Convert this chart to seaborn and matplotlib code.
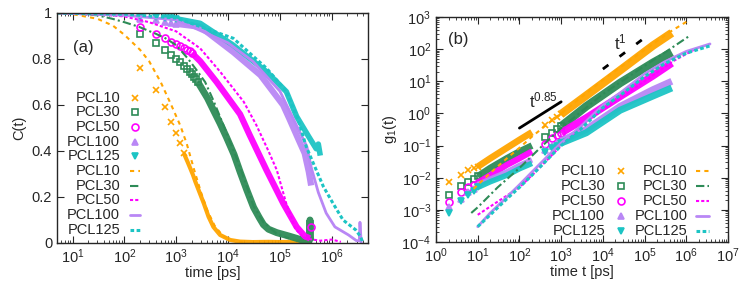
import matplotlib
matplotlib.use("Agg")
import matplotlib.pyplot as plt
import matplotlib.ticker as mticker
import seaborn as sns

# ---------------- panel (a): C(t) ----------------
# symbols (sparse, individually visible points)
ca_pcl10_sym_t = [200, 400, 600, 800, 1000, 1200, 1400]
ca_pcl10_sym = [0.76, 0.665, 0.59, 0.527, 0.477, 0.433, 0.39]
ca_pcl30_sym_t = [200, 400, 600, 800, 1000, 1200, 1400, 1600, 1800, 2000, 2200, 2400, 2600]
ca_pcl30_sym = [0.91, 0.868, 0.84, 0.817, 0.80, 0.785, 0.77, 0.757, 0.745, 0.733, 0.722, 0.712, 0.702]
ca_pcl50_sym_t = [200, 400, 600, 800, 1000, 1200, 1400, 1600, 1800, 2000, 4.0e5]
ca_pcl50_sym = [0.94, 0.91, 0.89, 0.876, 0.864, 0.855, 0.847, 0.84, 0.833, 0.826, 0.07]
ca_pcl100_sym_t = [200, 400, 600, 800, 1000]
ca_pcl100_sym = [0.975, 0.968, 0.962, 0.957, 0.953]
ca_pcl125_sym_t = [200, 400, 600, 800, 1000]
ca_pcl125_sym = [0.985, 0.981, 0.979, 0.977, 0.975]

# symbols (dense parts, overlapping into bands)
ca_pcl10_band_t = [1400, 1650, 1860, 2100, 2330, 2700, 3400, 4200, 5200, 7000, 1.1e4, 1.7e4,
                   3e4, 6e4, 1e5, 2e5, 4e5]
ca_pcl10_band = [0.39, 0.353, 0.325, 0.296, 0.267, 0.23, 0.172, 0.114, 0.07, 0.035, 0.013, 0.006,
                 0.004, 0.005, 0.004, 0.006, 0.005]
ca_pcl30_band_t = [2600, 4000, 5200, 7000, 9300, 1.3e4, 1.7e4, 2.3e4, 3.1e4, 4e4, 4.8e4, 6e4,
                   8.7e4, 1.5e5, 2.5e5, 3.5e5, 3.7e5, 3.8e5, 3.9e5]
ca_pcl30_band = [0.70, 0.63, 0.578, 0.52, 0.46, 0.385, 0.31, 0.23, 0.155, 0.11, 0.08, 0.06,
                 0.045, 0.03, 0.015, 0.01, 0.01, 0.10, 0.01]
ca_pcl50_band_t = [2000, 2900, 6000, 1.7e4, 2.6e4, 5.5e4, 1.16e5, 2.1e5, 3e5, 3.8e5]
ca_pcl50_band = [0.826, 0.79, 0.70, 0.56, 0.47, 0.317, 0.172, 0.07, 0.03, 0.02]
ca_pcl100_band_t = [1000, 2900, 1.26e4, 4.2e4, 1.15e5, 1.5e5, 2.3e5, 3e5, 3.6e5, 4e5]
ca_pcl100_band = [0.953, 0.94, 0.83, 0.73, 0.60, 0.543, 0.448, 0.39, 0.31, 0.25]
ca_pcl125_band_t = [1000, 2900, 1.26e4, 5.5e4, 1.33e5, 2.1e5, 3.6e5, 5e5, 5.5e5, 6e5]
ca_pcl125_band = [0.975, 0.955, 0.86, 0.745, 0.658, 0.55, 0.462, 0.41, 0.43, 0.38]

# lines
ca_pcl10_line_t = [5, 10, 30, 60, 100, 200, 300, 500, 800, 1200, 1600, 2200, 3000, 4000, 5500,
                   8000, 1.2e4, 2e4]
ca_pcl10_line = [0.998, 0.995, 0.975, 0.945, 0.905, 0.84, 0.79, 0.70, 0.60, 0.51, 0.43, 0.32,
                 0.22, 0.14, 0.075, 0.03, 0.01, 0.003]
ca_pcl30_line_t = [5, 10, 30, 58, 100, 190, 400, 620, 1000, 1700, 2500, 3600, 5200, 9300, 1.7e4,
                   3.1e4, 4.8e4, 8.7e4, 1.5e5]
ca_pcl30_line = [1.0, 0.998, 0.99, 0.975, 0.96, 0.94, 0.91, 0.89, 0.86, 0.80, 0.75, 0.70, 0.62,
                 0.48, 0.33, 0.16, 0.09, 0.04, 0.02]
ca_pcl50_line_t = [5, 30, 100, 300, 1000, 2900, 7000, 2e4, 3.5e4, 6e4, 8.7e4, 1.33e5, 1.5e5, 2e5,
                   3e5, 6e5, 1e6, 1.5e6]
ca_pcl50_line = [1.0, 0.995, 0.985, 0.96, 0.92, 0.846, 0.745, 0.614, 0.513, 0.40, 0.317, 0.17,
                 0.14, 0.06, 0.02, 0.01, 0.015, 0.005]
ca_pcl100_line_t = [5, 100, 1000, 1e4, 3e4, 1e5, 2e5, 3.3e5, 4e5, 5.5e5, 7.8e5, 1.15e6, 2.1e6,
                    3e6, 3.4e6, 3.5e6, 3.7e6]
ca_pcl100_line = [1.0, 0.99, 0.97, 0.87, 0.79, 0.66, 0.52, 0.42, 0.33, 0.22, 0.13, 0.07, 0.035,
                  0.01, 0.01, 0.09, 0.0]
ca_pcl125_line_t = [5, 100, 1000, 1.26e4, 5.5e4, 1.33e5, 2.3e5, 3.2e5, 4.4e5, 6.9e5, 1.06e6,
                    1.65e6, 2.9e6, 3.6e6, 4e6]
ca_pcl125_line = [1.0, 0.995, 0.978, 0.89, 0.76, 0.66, 0.53, 0.42, 0.347, 0.245, 0.172, 0.10,
                  0.057, 0.027, 0.0]

# ---------------- panel (b): g1(t) ----------------
gb_sym_t = [2, 4, 6, 8, 10]
gb_pcl10_sym = [0.0071, 0.0123, 0.017, 0.02, 0.022]
gb_pcl30_sym = [0.003, 0.0054, 0.0074, 0.0093, 0.011]
gb_pcl50_sym = [0.0018, 0.0037, 0.005, 0.006, 0.007]
gb_pcl100_sym = [0.0012, 0.0022, 0.0035, 0.0045, 0.006]
gb_pcl125_sym = [0.0008, 0.0019, 0.003, 0.004, 0.005]

gb_band1_t = [10, 20, 50, 100, 200]
gb_pcl10_band1 = [0.022, 0.04, 0.085, 0.15, 0.26]
gb_pcl30_band1 = [0.011, 0.02, 0.04, 0.065, 0.10]
gb_pcl50_band1 = [0.007, 0.012, 0.025, 0.04, 0.066]
gb_pcl100_band1 = [0.006, 0.009, 0.015, 0.024, 0.036]
gb_pcl125_band1 = [0.005, 0.0075, 0.012, 0.019, 0.028]

gb_sym2_t = [400, 600, 800, 1000]
gb_pcl10_sym2 = [0.45, 0.64, 0.80, 0.95]
gb_pcl30_sym2 = [0.19, 0.25, 0.32, 0.40]
gb_pcl50_sym2 = [0.115, 0.17, 0.21, 0.25]
gb_pcl100_sym2 = [0.074, 0.10, 0.12, 0.14]
gb_pcl125_sym2 = [0.065, 0.085, 0.10, 0.12]

gb_band2_t = [1000, 4000, 2.6e4, 1.6e5, 4.5e5]
gb_pcl10_band2 = [0.95, 3.6, 22, 130, 320]
gb_pcl30_band2 = [0.40, 1.66, 8.9, 38, 80]
gb_pcl50_band2 = [0.25, 0.72, 3.4, 15, 37]
gb_pcl100_band2 = [0.14, 0.32, 1.66, 5.5, 10]
gb_pcl125_band2 = [0.12, 0.25, 1.26, 3.5, 6.2]

gb_pcl10_line_t = [8, 10, 20, 50, 100, 200, 500, 1000, 1e4, 1e5, 4e5, 1.1e6]
gb_pcl10_line = [0.0045, 0.006, 0.014, 0.04, 0.085, 0.19, 0.5, 1.0, 11, 95, 340, 760]
gb_pcl30_line_t = [7, 10, 30, 100, 300, 1000, 1e4, 1e5, 4.5e5, 1.2e6]
gb_pcl30_line = [0.0008, 0.0012, 0.005, 0.02, 0.08, 0.35, 4, 30, 110, 260]
gb_pcl50_line_t = [10, 30, 100, 300, 1000, 3000, 1e4, 1e5, 4.8e5, 1.8e6]
gb_pcl50_line = [0.0007, 0.0018, 0.005, 0.02, 0.1, 0.4, 1.3, 10, 42, 107]
gb_pcl100_line_t = [10, 20, 50, 100, 200, 500, 1000, 3000, 1e4, 3e4, 1e5, 3e5, 7e5, 1e6, 3.7e6]
gb_pcl100_line = [0.0003, 0.0008, 0.0025, 0.006, 0.015, 0.05, 0.12, 0.4, 1.8, 5, 17, 40, 68, 85, 145]
gb_pcl125_line_t = [10, 20, 50, 100, 200, 500, 1000, 3000, 1e4, 3e4, 1e5, 3e5, 1e6, 3.6e6]
gb_pcl125_line = [0.0003, 0.0007, 0.0022, 0.005, 0.012, 0.04, 0.1, 0.33, 1.5, 4.2, 14, 35, 75, 125]

labels = ["PCL10", "PCL30", "PCL50", "PCL100", "PCL125"]
colors = ["#ffa500", "#2e8b57", "#ff00ff", "#b987f5", "#1cc4c4"]
markers = ["x", "s", "o", "^", "v"]
marker_filled = [False, False, False, True, True]
line_styles = [(0, (2, 2)), (0, (4, 1.5, 1, 1.5)), (0, (1.5, 1)), "-", (0, (1.2, 0.8))]
line_widths = [1.5, 1.5, 1.5, 2.0, 2.2]

sns.set_theme(style="ticks")
plt.rcParams["font.family"] = ["Liberation Sans", "DejaVu Sans"]
plt.rcParams["mathtext.fontset"] = "custom"
plt.rcParams["mathtext.rm"] = "Liberation Sans"
plt.rcParams["mathtext.it"] = "Liberation Sans:italic"
plt.rcParams["font.size"] = 10.5

FS = 10.5


def draw_line(ax, t, v, i, **kw):
    sns.lineplot(x=t, y=v, ax=ax, color=colors[i], linestyle=line_styles[i],
                 linewidth=line_widths[i], estimator=None, sort=False, legend=False, **kw)


def draw_band(ax, t, v, i, lw):
    sns.lineplot(x=t, y=v, ax=ax, color=colors[i], linewidth=lw, estimator=None, sort=False,
                 legend=False, solid_capstyle="butt", alpha=0.95)


def draw_marks(ax, t, v, i, ms=5):
    face = colors[i] if marker_filled[i] else "none"
    sns.lineplot(x=t, y=v, ax=ax, color=colors[i], linestyle="", marker=markers[i],
                 markersize=ms, markerfacecolor=face, markeredgecolor=colors[i],
                 markeredgewidth=1.2, estimator=None, sort=False, legend=False)


def key_entry(ax, xt, xm, x0, x1, y, label, i, kind):
    ax.text(xt, y, label, transform=ax.transAxes, ha="right", va="center", fontsize=FS)
    if kind == "mark":
        face = colors[i] if marker_filled[i] else "none"
        ax.plot([xm], [y], transform=ax.transAxes, marker=markers[i], linestyle="",
                color=colors[i], markerfacecolor=face, markersize=5, markeredgewidth=1.2,
                clip_on=False)
    else:
        ax.plot([x0, x1], [y, y], transform=ax.transAxes, color=colors[i],
                linestyle=line_styles[i], linewidth=line_widths[i], clip_on=False)


def style_axes(ax):
    ax.tick_params(which="both", direction="in", top=True, right=True, labelsize=FS)
    ax.tick_params(which="major", length=5, width=0.8)
    ax.tick_params(which="minor", length=2.5, width=0.6)
    for s in ax.spines.values():
        s.set_linewidth(1.0)


fig = plt.figure(figsize=(7.48, 2.86), dpi=100)
ax1 = fig.add_axes([57 / 748, 43 / 286, 311 / 748, 230 / 286])
ax2 = fig.add_axes([436 / 748, 44 / 286, 292 / 748, 225 / 286])

# ---- panel (a)
ax1.set_xscale("log")
a_sym = [(ca_pcl10_sym_t, ca_pcl10_sym), (ca_pcl30_sym_t, ca_pcl30_sym),
         (ca_pcl50_sym_t, ca_pcl50_sym), (ca_pcl100_sym_t, ca_pcl100_sym),
         (ca_pcl125_sym_t, ca_pcl125_sym)]
a_band = [(ca_pcl10_band_t, ca_pcl10_band), (ca_pcl30_band_t, ca_pcl30_band),
          (ca_pcl50_band_t, ca_pcl50_band), (ca_pcl100_band_t, ca_pcl100_band),
          (ca_pcl125_band_t, ca_pcl125_band)]
a_line = [(ca_pcl10_line_t, ca_pcl10_line), (ca_pcl30_line_t, ca_pcl30_line),
          (ca_pcl50_line_t, ca_pcl50_line), (ca_pcl100_line_t, ca_pcl100_line),
          (ca_pcl125_line_t, ca_pcl125_line)]
a_band_lw = [3.0, 5.0, 4.5, 4.5, 4.0]
for i in range(5):
    draw_band(ax1, *a_band[i], i, a_band_lw[i])
    draw_marks(ax1, *a_sym[i], i)
for i in range(5):
    draw_line(ax1, *a_line[i], i)

ax1.set_xlim(5, 5e6)
ax1.set_ylim(0, 1)
ax1.yaxis.set_major_locator(mticker.MultipleLocator(0.2))
ax1.yaxis.set_major_formatter(mticker.FuncFormatter(lambda v, p: f"{v:g}"))
ax1.set_xticks([1e1, 1e2, 1e3, 1e4, 1e5, 1e6])
ax1.xaxis.set_minor_locator(mticker.LogLocator(base=10, subs=range(2, 10), numticks=20))
ax1.xaxis.set_minor_formatter(mticker.NullFormatter())
ax1.set_xlim(5, 5e6)
ax1.set_xlabel("time [ps]", fontsize=FS, labelpad=0)
ax1.set_ylabel("C(t)", fontsize=FS, labelpad=4)
style_axes(ax1)
ax1.text(0.05, 0.85, "(a)", transform=ax1.transAxes, fontsize=12, va="center")

for k in range(10):
    y = (243 - (97.5 + 14.7 * k)) / 230
    i = k % 5
    kind = "mark" if k < 5 else "line"
    key_entry(ax1, 0.203, 0.25, 0.235, 0.268, y, labels[i], i, kind)

# ---- panel (b)
ax2.set_xscale("log")
ax2.set_yscale("log")
b_sym = [gb_pcl10_sym, gb_pcl30_sym, gb_pcl50_sym, gb_pcl100_sym, gb_pcl125_sym]
b_band1 = [gb_pcl10_band1, gb_pcl30_band1, gb_pcl50_band1, gb_pcl100_band1, gb_pcl125_band1]
b_sym2 = [gb_pcl10_sym2, gb_pcl30_sym2, gb_pcl50_sym2, gb_pcl100_sym2, gb_pcl125_sym2]
b_band2 = [gb_pcl10_band2, gb_pcl30_band2, gb_pcl50_band2, gb_pcl100_band2, gb_pcl125_band2]
b_line = [(gb_pcl10_line_t, gb_pcl10_line), (gb_pcl30_line_t, gb_pcl30_line),
          (gb_pcl50_line_t, gb_pcl50_line), (gb_pcl100_line_t, gb_pcl100_line),
          (gb_pcl125_line_t, gb_pcl125_line)]
b_band_lw = [6.0, 6.0, 5.5, 5.0, 5.0]
for i in range(5):
    draw_band(ax2, gb_band1_t, b_band1[i], i, b_band_lw[i] * 0.8)
    draw_band(ax2, gb_band2_t, b_band2[i], i, b_band_lw[i])
    draw_marks(ax2, gb_sym_t, b_sym[i], i)
    draw_marks(ax2, gb_sym2_t, b_sym2[i], i)
for i in range(5):
    draw_line(ax2, *b_line[i], i)

# guide lines t^0.85 and t^1
guide_085_t = [100, 1000]
guide_085 = [0.35, 2.3]
guide_1_t = [1e4, 1e5]
guide_1 = [24, 225]
sns.lineplot(x=guide_085_t, y=guide_085, ax=ax2, color="black", linewidth=2.0,
             estimator=None, legend=False)
sns.lineplot(x=guide_1_t, y=guide_1, ax=ax2, color="black", linewidth=2.0,
             linestyle=(0, (2.5, 5)), estimator=None, legend=False)
ax2.text(170, 1.5, r"t$^{0.85}$", fontsize=12)
ax2.text(1.9e4, 95, r"t$^{1}$", fontsize=12)

ax2.set_xlim(1, 1e7)
ax2.set_ylim(1e-4, 1e3)
ax2.set_xticks([10.0 ** k for k in range(0, 8)])
ax2.set_yticks([10.0 ** k for k in range(-4, 4)])
for axis in (ax2.xaxis, ax2.yaxis):
    axis.set_minor_locator(mticker.LogLocator(base=10, subs=range(2, 10), numticks=20))
    axis.set_minor_formatter(mticker.NullFormatter())
ax2.set_xlim(1, 1e7)
ax2.set_ylim(1e-4, 1e3)
ax2.set_xlabel("time t [ps]", fontsize=FS, labelpad=0)
ax2.set_ylabel(r"g$_1$(t)", fontsize=FS, labelpad=2)
style_axes(ax2)
ax2.text(0.041, 0.9, "(b)", transform=ax2.transAxes, fontsize=12, va="center")

for r in range(5):
    y = (242 - (171 + 15 * r)) / 225
    key_entry(ax2, (605 - 436) / 292, (621 - 436) / 292, 0, 0, y, labels[r], r, "mark")
    key_entry(ax2, (688 - 436) / 292, 0, (696 - 436) / 292, (709 - 436) / 292, y,
              labels[r], r, "line")

fig.savefig("out.png", dpi=100)
